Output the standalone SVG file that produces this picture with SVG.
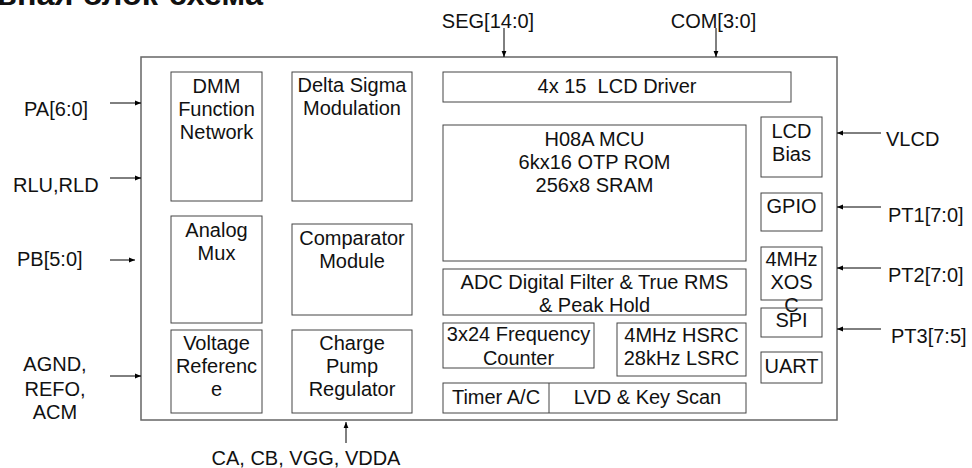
<svg xmlns="http://www.w3.org/2000/svg" width="972" height="468" viewBox="0 0 972 468">
<defs>
<marker id="ah" viewBox="0 0 10 10" refX="10" refY="5" markerWidth="8" markerHeight="6" markerUnits="userSpaceOnUse" orient="auto">
<path d="M0,1 L10,5 L0,9 Z" fill="#000"/>
</marker>
<style>
text{font-family:"Liberation Sans",Arial,sans-serif;font-size:20px;fill:#111}
.c{text-anchor:middle}
.b{fill:none;stroke:#444;stroke-width:1}
.main{fill:none;stroke:#666;stroke-width:1.5}
.w{stroke:#000;stroke-width:1;fill:none}
.t{font-weight:bold;font-size:31px}
</style>
</defs>
<rect width="972" height="468" fill="#fff"/>
<text class="t" x="-3" y="5" textLength="266" lengthAdjust="spacingAndGlyphs">ьная блок-схема</text>
<g id="chip"><rect class="main" x="141" y="57" width="696" height="363"/></g>
<g id="dmm"><rect class="b" x="171" y="72" width="91" height="129"/>
<text class="c" x="216.5" y="93">DMM</text><text class="c" x="216.5" y="116">Function</text><text class="c" x="216.5" y="139">Network</text></g>
<g id="dsm"><rect class="b" x="292" y="72" width="120" height="129"/>
<text class="c" x="352" y="92">Delta Sigma</text><text class="c" x="352" y="115">Modulation</text></g>
<g id="mux"><rect class="b" x="171" y="216" width="91" height="107"/>
<text class="c" x="216.5" y="237">Analog</text><text class="c" x="216.5" y="260">Mux</text></g>
<g id="cmp"><rect class="b" x="292" y="224" width="120" height="91"/>
<text class="c" x="352" y="245">Comparator</text><text class="c" x="352" y="268">Module</text></g>
<g id="vref"><rect class="b" x="171" y="330" width="91" height="83"/>
<text class="c" x="216.5" y="350">Voltage</text><text class="c" x="216.5" y="373">Referenc</text><text class="c" x="216.5" y="396">e</text></g>
<g id="cpr"><rect class="b" x="292" y="330" width="120" height="83"/>
<text class="c" x="352" y="350">Charge</text><text class="c" x="352" y="373">Pump</text><text class="c" x="352" y="396">Regulator</text></g>
<g id="lcd"><rect class="b" x="443" y="72" width="348" height="30"/>
<text class="c" x="617" y="93" xml:space="preserve">4x 15  LCD Driver</text></g>
<g id="mcu"><rect class="b" x="443" y="125" width="303" height="136"/>
<text class="c" x="594.5" y="146">H08A MCU</text><text class="c" x="594.5" y="169">6kx16 OTP ROM</text><text class="c" x="594.5" y="192">256x8 SRAM</text></g>
<g id="adc"><rect class="b" x="443" y="269" width="303" height="46"/>
<text class="c" x="594.5" y="289">ADC Digital Filter &amp; True RMS</text><text class="c" x="594.5" y="312">&amp; Peak Hold</text></g>
<g id="freq"><rect class="b" x="443" y="323" width="151" height="45"/>
<text class="c" x="518.5" y="341">3x24 Frequency</text><text class="c" x="518.5" y="365">Counter</text></g>
<g id="osc"><rect class="b" x="617" y="323" width="129" height="53"/>
<text class="c" x="681.5" y="342">4MHz HSRC</text><text class="c" x="681.5" y="365">28kHz LSRC</text></g>
<g id="timer"><rect class="b" x="443" y="383" width="303" height="30"/>
<line class="b" x1="549" y1="383" x2="549" y2="413"/>
<text class="c" x="496" y="404">Timer A/C</text><text class="c" x="647.5" y="404">LVD &amp; Key Scan</text></g>
<g id="bias"><rect class="b" x="761" y="117" width="61" height="60"/>
<text class="c" x="791.5" y="138">LCD</text><text class="c" x="791.5" y="161">Bias</text></g>
<g id="gpio"><rect class="b" x="761" y="193" width="61" height="38"/>
<text class="c" x="791.5" y="213">GPIO</text></g>
<g id="xos"><rect class="b" x="761" y="247" width="61" height="53"/>
<text class="c" x="791.5" y="266">4MHz</text><text class="c" x="791.5" y="289">XOS</text><text class="c" x="791.5" y="312">C</text></g>
<g id="spi"><rect class="b" x="761" y="308" width="61" height="29"/>
<text class="c" x="791.5" y="327">SPI</text></g>
<g id="uart"><rect class="b" x="761" y="352" width="61" height="31"/>
<text class="c" x="791.5" y="373">UART</text></g>
<g id="labels">
<text x="24" y="116">PA[6:0]</text>
<text x="13" y="192">RLU,RLD</text>
<text x="17" y="266">PB[5:0]</text>
<text class="c" x="55" y="371">AGND,</text><text class="c" x="55" y="396">REFO,</text><text class="c" x="55" y="419">ACM</text>
<text x="886" y="146">VLCD</text>
<text x="888" y="222">PT1[7:0]</text>
<text x="888" y="282">PT2[7:0]</text>
<text x="891" y="343">PT3[7:5]</text>
<text class="c" x="488" y="28">SEG[14:0]</text>
<text class="c" x="713.5" y="28">COM[3:0]</text>
<text class="c" x="306" y="465">CA, CB, VGG, VDDA</text>
</g>
<g id="connectors">
<line class="w" x1="110" y1="103" x2="141" y2="103" marker-end="url(#ah)"/>
<line class="w" x1="110" y1="178" x2="141" y2="178" marker-end="url(#ah)"/>
<line class="w" x1="110" y1="260" x2="135" y2="260" marker-end="url(#ah)"/>
<line class="w" x1="110" y1="376" x2="141" y2="376" marker-end="url(#ah)"/>
<line class="w" x1="881" y1="133" x2="837" y2="133" marker-end="url(#ah)"/>
<line class="w" x1="881" y1="207" x2="837" y2="207" marker-end="url(#ah)"/>
<line class="w" x1="881" y1="268" x2="837" y2="268" marker-end="url(#ah)"/>
<line class="w" x1="881" y1="329" x2="837" y2="329" marker-end="url(#ah)"/>
<line class="w" x1="504" y1="28" x2="504" y2="57" marker-end="url(#ah)"/>
<line class="w" x1="716" y1="28" x2="716" y2="57" marker-end="url(#ah)"/>
<line class="w" x1="346" y1="443" x2="346" y2="422" marker-end="url(#ah)"/>
</g>
</svg>
